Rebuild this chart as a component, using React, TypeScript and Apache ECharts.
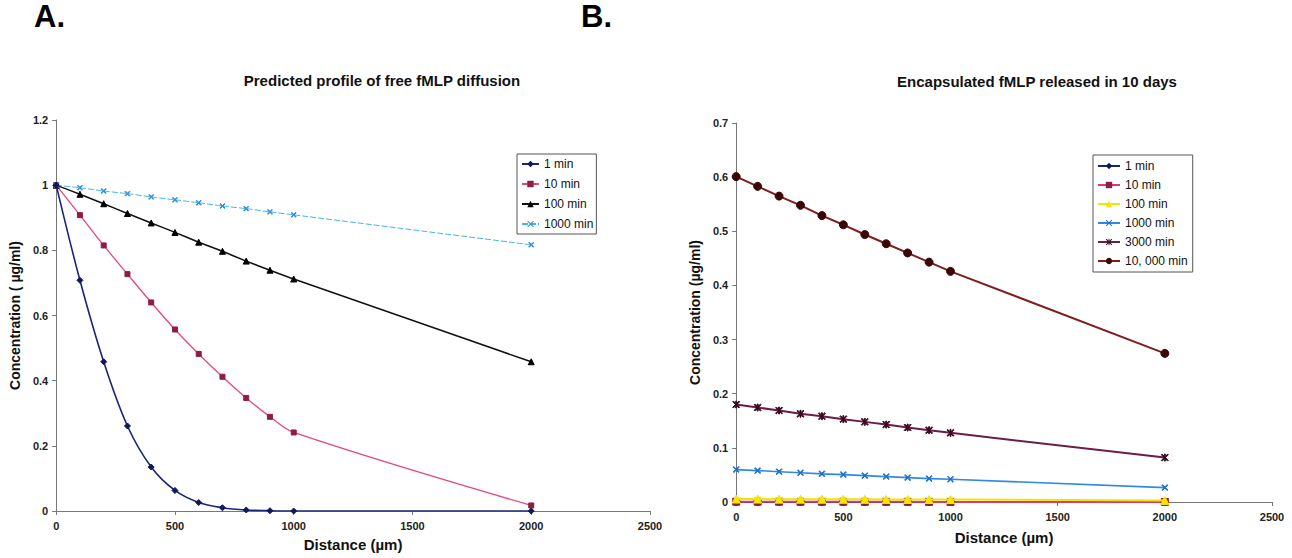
import React, { useEffect, useRef } from "react";
import * as echarts from "echarts";

const distances = [0, 100, 200, 300, 400, 500, 600, 700, 800, 900, 1000, 2000];

// Panel A
const aNames = ["1 min", "10 min", "100 min", "1000 min"];
const a1min = [1, 0.708, 0.458, 0.261, 0.135, 0.063, 0.026, 0.01, 0.003, 0.001, 0, 0];
const a10min = [1, 0.908, 0.815, 0.727, 0.64, 0.557, 0.482, 0.412, 0.347, 0.289, 0.241, 0.017];
const a100min = [1, 0.972, 0.943, 0.913, 0.884, 0.855, 0.825, 0.797, 0.767, 0.739, 0.712, 0.458];
const a1000min = [1, 0.992, 0.982, 0.974, 0.964, 0.955, 0.946, 0.936, 0.928, 0.918, 0.909, 0.817];

// Panel B
const bNames = ["1 min", "10 min", "100 min", "1000 min", "3000 min", "10, 000 min"];
const b1min = [0, 0, 0, 0, 0, 0, 0, 0, 0, 0, 0, 0];
const b10min = [0.0005, 0.0005, 0.0005, 0.0004, 0.0004, 0.0004, 0.0003, 0.0003, 0.0003, 0.0002, 0.0002, 0.0001];
const b100min = [0.0055, 0.0054, 0.0053, 0.0052, 0.0051, 0.005, 0.0049, 0.0048, 0.0047, 0.0046, 0.0045, 0.003];
const b1000min = [0.0598, 0.058, 0.056, 0.054, 0.052, 0.0506, 0.0487, 0.0469, 0.045, 0.0432, 0.042, 0.0266];
const b3000min = [0.18, 0.1745, 0.169, 0.163, 0.1585, 0.153, 0.148, 0.143, 0.1375, 0.1326, 0.1277, 0.082];
const b10000min = [0.601, 0.583, 0.565, 0.548, 0.529, 0.512, 0.494, 0.477, 0.46, 0.443, 0.426, 0.2745];

const xTicks = { min: 0, max: 2500, interval: 500 };

const X_SYMBOL = "path://M0,1L1,0L5,4L9,0L10,1L6,5L10,9L9,10L5,6L1,10L0,9L4,5Z";
const STAR_SYMBOL = "path://M0,1L1,0L5,4L9,0L10,1L6,5L10,9L9,10L5,6L1,10L0,9L4,5Z M4.3,0L5.7,0L5.7,10L4.3,10Z";

const FONT = "Arial, 'Liberation Sans', sans-serif";

const pair = (ys: number[]) => distances.map((d, i) => [d, ys[i]]);

const labelStyle = (margin: number) => ({
  color: "#222",
  fontSize: 11,
  fontFamily: FONT,
  fontWeight: "bold",
  margin,
  formatter: (v: number) => String(v),
});

function axisCommon(extra: any) {
  return {
    type: "value",
    axisLine: { show: true, lineStyle: { color: "#777", width: 1 } },
    axisTick: { show: true, length: 4, lineStyle: { color: "#777" } },
    splitLine: { show: false },
    nameTextStyle: { color: "#111", fontSize: 14, fontWeight: "bold", fontFamily: FONT },
    ...extra,
  };
}

function lineSeries(name: string, ys: number[], color: string, symColor: string, symbol: string, size: number, width: number, smooth: number | boolean, extra: any = {}) {
  return {
    type: "line",
    name,
    data: pair(ys),
    smooth,
    symbol,
    symbolSize: size,
    lineStyle: { color, width, ...(extra.lineStyle || {}) },
    itemStyle: { color: symColor, borderColor: symColor },
    z: extra.z || 2,
  };
}

const legendBase = {
  orient: "vertical",
  itemHeight: 8,
  textStyle: { fontSize: 12, fontFamily: FONT, color: "#111" },
  borderColor: "#555",
  borderWidth: 1,
  selectedMode: false,
};

function optionA(): any {
  return {
    animation: false,
    backgroundColor: "#fff",
    graphic: [
      { type: "text", style: { text: "A.", x: 34, y: 16, textVerticalAlign: "middle", font: `bold 31px ${FONT}`, fill: "#000" } },
      { type: "text", style: { text: "B.", x: 581, y: 16, textVerticalAlign: "middle", font: `bold 31px ${FONT}`, fill: "#000" } },
      { type: "text", style: { text: "Predicted profile of free fMLP diffusion", x: 382, y: 80, textAlign: "center", textVerticalAlign: "middle", font: `bold 15px ${FONT}`, fill: "#111" } },
    ],
    grid: { left: 53, top: 120, width: 597, height: 391 },
    xAxis: axisCommon({ ...xTicks, name: "Distance (µm)", nameLocation: "middle", nameGap: 26, nameTextStyle: { color: "#111", fontSize: 15, fontWeight: "bold", fontFamily: FONT }, axisLabel: labelStyle(9) }),
    yAxis: axisCommon({ min: 0, max: 1.2, interval: 0.2, name: "Concentration ( µg/ml)", nameLocation: "middle", nameRotate: 90, nameGap: 30, axisLabel: labelStyle(8) }),
    legend: {
      ...legendBase,
      left: 517,
      top: 154,
      data: aNames,
      itemWidth: 17,
      itemGap: 8,
      padding: [4, 3, 4, 4],
    },
    series: [
      lineSeries(aNames[0], a1min, "#1b2577", "#10185a", "diamond", 6, 1.6, 0.35, { z: 5 }),
      lineSeries(aNames[1], a10min, "#e5487f", "#8e1d42", "rect", 5, 1.3, 0.35),
      lineSeries(aNames[2], a100min, "#111", "#000", "triangle", 6, 1.5, 0.2),
      lineSeries(aNames[3], a1000min, "#46b4f2", "#2d8fd8", X_SYMBOL, 5, 1, 0.2, { lineStyle: { type: [6, 2] } }),
    ],
  };
}

function optionB(): any {
  return {
    animation: false,
    backgroundColor: "#fff",
    graphic: [
      { type: "text", style: { text: "Encapsulated fMLP released in 10 days", x: 357, y: 81, textAlign: "center", textVerticalAlign: "middle", font: `bold 15px ${FONT}`, fill: "#111" } },
    ],
    grid: { left: 51, top: 123, width: 541, height: 379 },
    xAxis: axisCommon({ ...xTicks, name: "Distance (µm)", nameLocation: "middle", nameGap: 28, nameTextStyle: { color: "#111", fontSize: 15, fontWeight: "bold", fontFamily: FONT }, axisLabel: labelStyle(9) }),
    yAxis: axisCommon({ min: 0, max: 0.7, interval: 0.1, name: "Concentration (µg/ml)", nameLocation: "middle", nameRotate: 90, nameGap: 31, axisLabel: labelStyle(8) }),
    legend: {
      ...legendBase,
      left: 413,
      top: 155,
      data: bNames,
      itemWidth: 22,
      itemGap: 7,
      padding: [5, 5, 5, 4],
    },
    series: [
      lineSeries(bNames[0], b1min, "#1b2577", "#10185a", "diamond", 8, 2, false),
      lineSeries(bNames[1], b10min, "#d83a72", "#8e1d42", "rect", 7, 2, false),
      lineSeries(bNames[2], b100min, "#f2e400", "#f5e600", "triangle", 8, 2, false, { z: 4 }),
      lineSeries(bNames[3], b1000min, "#2f8ae0", "#1f6fc8", X_SYMBOL, 6, 1.6, false),
      lineSeries(bNames[4], b3000min, "#6b1d45", "#3a0a22", STAR_SYMBOL, 7, 2, false),
      lineSeries(bNames[5], b10000min, "#7f1c1c", "#3a0606", "circle", 8, 2, false),
    ],
  };
}

function Chart({ left, width, option }: { left: number; width: number; option: any }) {
  const ref = useRef<HTMLDivElement>(null);
  useEffect(() => {
    if (!ref.current) return;
    const chart = echarts.init(ref.current, undefined, { renderer: "svg" });
    chart.setOption(option);
    return () => chart.dispose();
  }, []);
  return <div ref={ref} style={{ position: "absolute", left, top: 0, width, height: 558 }} />;
}

export default function App() {
  return (
    <div style={{ position: "fixed", left: 0, top: 0, width: 1292, height: 558, background: "#fff", overflow: "hidden" }}>
      <Chart left={0} width={680} option={optionA()} />
      <Chart left={680} width={612} option={optionB()} />
    </div>
  );
}
